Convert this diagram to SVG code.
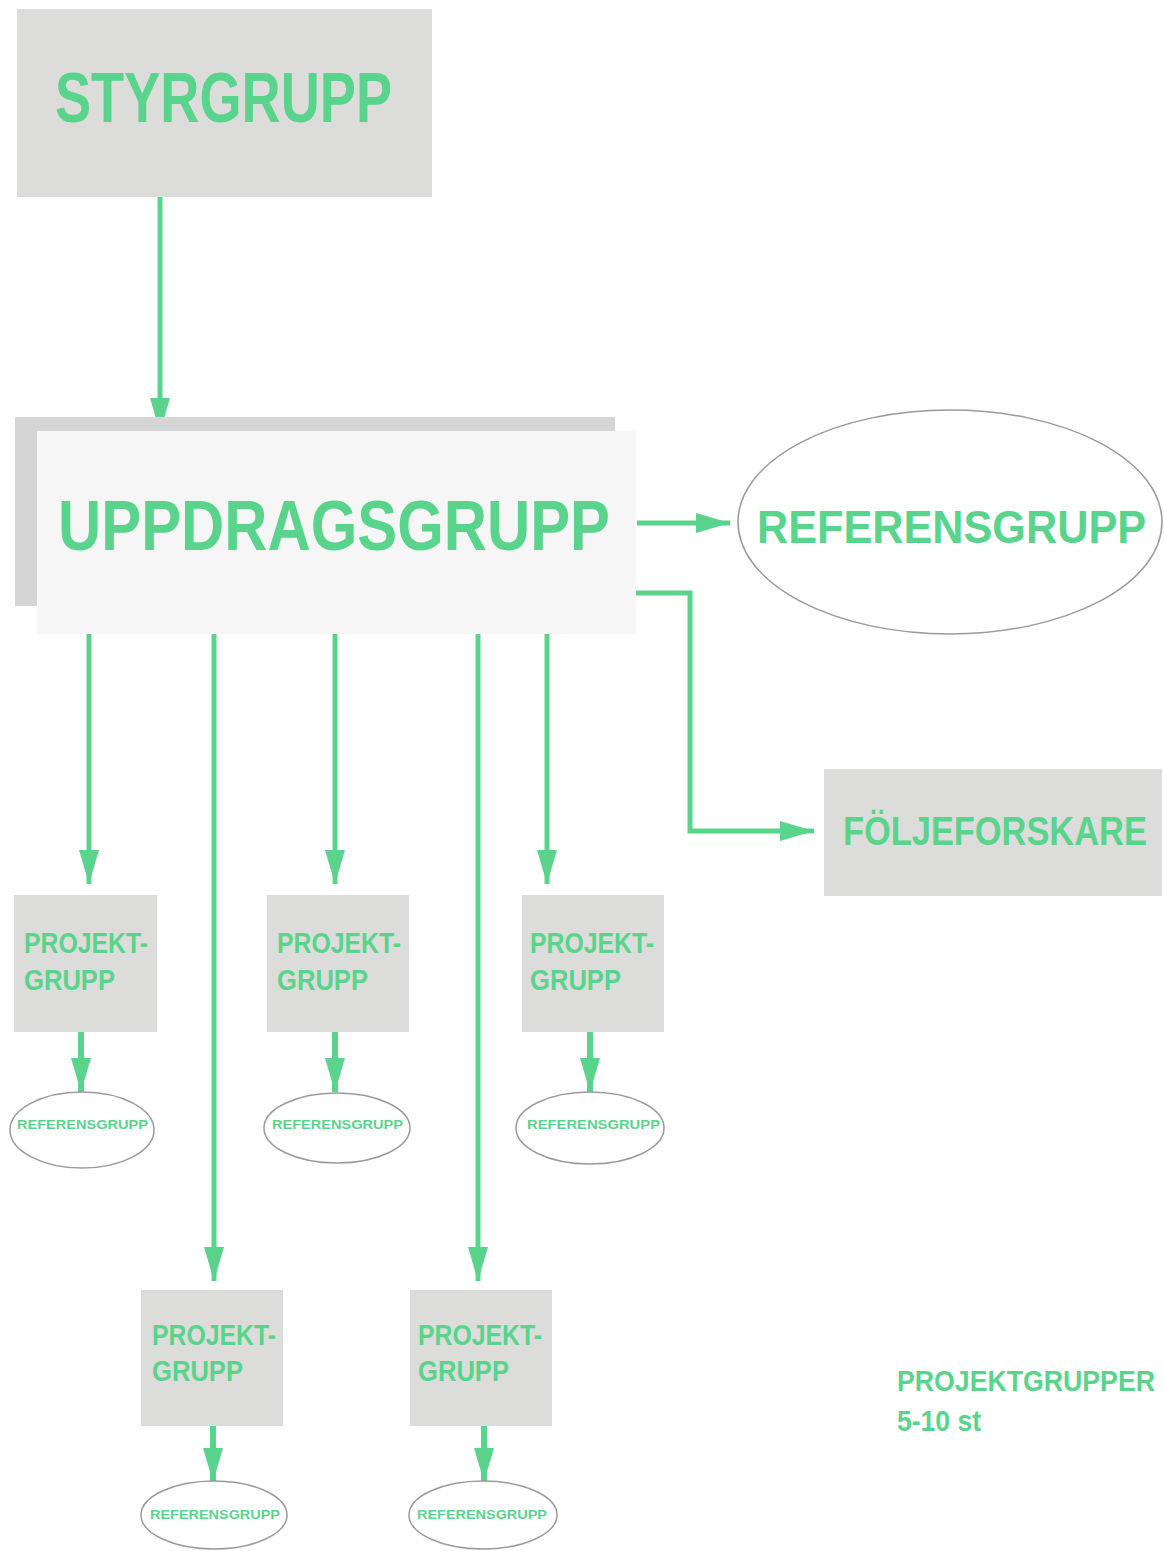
<svg xmlns="http://www.w3.org/2000/svg" width="1164" height="1551" viewBox="0 0 1164 1551">
  <style>
    .box { fill: #dcdcda; }
    .t { fill: #5ad48c; font-family: "Liberation Sans", Arial, sans-serif; font-weight: bold; }
    .ell { fill: #ffffff; stroke: #9a9a9a; stroke-width: 1.5; }
    .conn { fill: none; stroke: #5ad48c; stroke-width: 5; marker-end: url(#ah); }
    .conn2 { fill: none; stroke: #5ad48c; stroke-width: 6; marker-end: url(#ah); }
  </style>
  <defs>
    <marker id="ah" markerUnits="userSpaceOnUse" markerWidth="34" markerHeight="22" refX="34" refY="11" orient="auto">
      <path d="M0,1 L34,11 L0,21 z" fill="#5ad48c"/>
    </marker>
  </defs>
  <rect width="1164" height="1551" fill="#ffffff"/>

  <g id="connectors">
    <line class="conn" x1="160" y1="197" x2="160" y2="432"/>
    <line class="conn" x1="637" y1="523" x2="730" y2="523"/>
    <polyline class="conn" points="636,593 690,593 690,831 814,831"/>
    <line class="conn" x1="89" y1="634" x2="89" y2="884"/>
    <line class="conn" x1="214" y1="634" x2="214" y2="1281"/>
    <line class="conn" x1="335" y1="634" x2="335" y2="884"/>
    <line class="conn" x1="478" y1="634" x2="478" y2="1281"/>
    <line class="conn" x1="547" y1="634" x2="547" y2="884"/>
    <line class="conn2" x1="81" y1="1032" x2="81" y2="1092"/>
    <line class="conn2" x1="335" y1="1032" x2="335" y2="1092"/>
    <line class="conn2" x1="590" y1="1032" x2="590" y2="1092"/>
    <line class="conn2" x1="213" y1="1426" x2="213" y2="1482"/>
    <line class="conn2" x1="484" y1="1426" x2="484" y2="1482"/>
  </g>

  <g id="styrgrupp">
    <rect class="box" x="17" y="9" width="415" height="188"/>
    <text class="t" x="55" y="122" font-size="70" textLength="337" lengthAdjust="spacingAndGlyphs">STYRGRUPP</text>
  </g>

  <g id="uppdragsgrupp">
    <rect x="15" y="417" width="600" height="189" fill="#d5d5d5"/>
    <rect x="37" y="431" width="599" height="203" fill="#f6f6f6"/>
    <text class="t" x="58" y="550" font-size="70" textLength="552" lengthAdjust="spacingAndGlyphs">UPPDRAGSGRUPP</text>
  </g>

  <g id="referensgrupp-main">
    <ellipse class="ell" cx="950" cy="522" rx="212" ry="112"/>
    <text class="t" transform="translate(757,543) scale(0.92,1)" x="0" y="0" font-size="47">REFERENSGRUPP</text>
  </g>

  <g id="foljeforskare">
    <rect class="box" x="824" y="769" width="338" height="127" fill="#d8d8d8"/>
    <text class="t" transform="translate(843,845) scale(0.86,1)" x="0" y="0" font-size="40">FÖLJEFORSKARE</text>
  </g>

  <g id="projektgrupp-1">
    <rect class="box" x="14" y="895" width="143" height="137"/>
    <text class="t" x="24" y="953" font-size="29" textLength="124" lengthAdjust="spacingAndGlyphs">PROJEKT-</text>
    <text class="t" x="24" y="990" font-size="29" textLength="91" lengthAdjust="spacingAndGlyphs">GRUPP</text>
  </g>
  <g id="projektgrupp-2">
    <rect class="box" x="267" y="895" width="142" height="137"/>
    <text class="t" x="277" y="953" font-size="29" textLength="124" lengthAdjust="spacingAndGlyphs">PROJEKT-</text>
    <text class="t" x="277" y="990" font-size="29" textLength="91" lengthAdjust="spacingAndGlyphs">GRUPP</text>
  </g>
  <g id="projektgrupp-3">
    <rect class="box" x="522" y="895" width="142" height="137"/>
    <text class="t" x="530" y="953" font-size="29" textLength="124" lengthAdjust="spacingAndGlyphs">PROJEKT-</text>
    <text class="t" x="530" y="990" font-size="29" textLength="91" lengthAdjust="spacingAndGlyphs">GRUPP</text>
  </g>
  <g id="projektgrupp-4">
    <rect class="box" x="141" y="1290" width="142" height="136"/>
    <text class="t" x="152" y="1345" font-size="29" textLength="124" lengthAdjust="spacingAndGlyphs">PROJEKT-</text>
    <text class="t" x="152" y="1381" font-size="29" textLength="91" lengthAdjust="spacingAndGlyphs">GRUPP</text>
  </g>
  <g id="projektgrupp-5">
    <rect class="box" x="410" y="1290" width="142" height="136"/>
    <text class="t" x="418" y="1345" font-size="29" textLength="124" lengthAdjust="spacingAndGlyphs">PROJEKT-</text>
    <text class="t" x="418" y="1381" font-size="29" textLength="91" lengthAdjust="spacingAndGlyphs">GRUPP</text>
  </g>

  <g id="referensgrupp-1">
    <ellipse class="ell" cx="82" cy="1130" rx="72" ry="38"/>
    <text class="t" x="17" y="1129" font-size="13" textLength="131" lengthAdjust="spacingAndGlyphs">REFERENSGRUPP</text>
  </g>
  <g id="referensgrupp-2">
    <ellipse class="ell" cx="337" cy="1128" rx="73" ry="35"/>
    <text class="t" x="272" y="1129" font-size="13" textLength="131" lengthAdjust="spacingAndGlyphs">REFERENSGRUPP</text>
  </g>
  <g id="referensgrupp-3">
    <ellipse class="ell" cx="590" cy="1128" rx="74" ry="36"/>
    <text class="t" x="527" y="1129" font-size="13" textLength="133" lengthAdjust="spacingAndGlyphs">REFERENSGRUPP</text>
  </g>
  <g id="referensgrupp-4">
    <ellipse class="ell" cx="214" cy="1515" rx="73" ry="34"/>
    <text class="t" x="150" y="1519" font-size="13" textLength="130" lengthAdjust="spacingAndGlyphs">REFERENSGRUPP</text>
  </g>
  <g id="referensgrupp-5">
    <ellipse class="ell" cx="483" cy="1515" rx="74" ry="34"/>
    <text class="t" x="417" y="1519" font-size="13" textLength="130" lengthAdjust="spacingAndGlyphs">REFERENSGRUPP</text>
  </g>

  <g id="note">
    <text class="t" transform="translate(897,1391) scale(0.89,1)" x="0" y="0" font-size="30">PROJEKTGRUPPER</text>
    <text class="t" x="897" y="1431" font-size="30" textLength="84" lengthAdjust="spacingAndGlyphs">5-10 st</text>
  </g>
</svg>
